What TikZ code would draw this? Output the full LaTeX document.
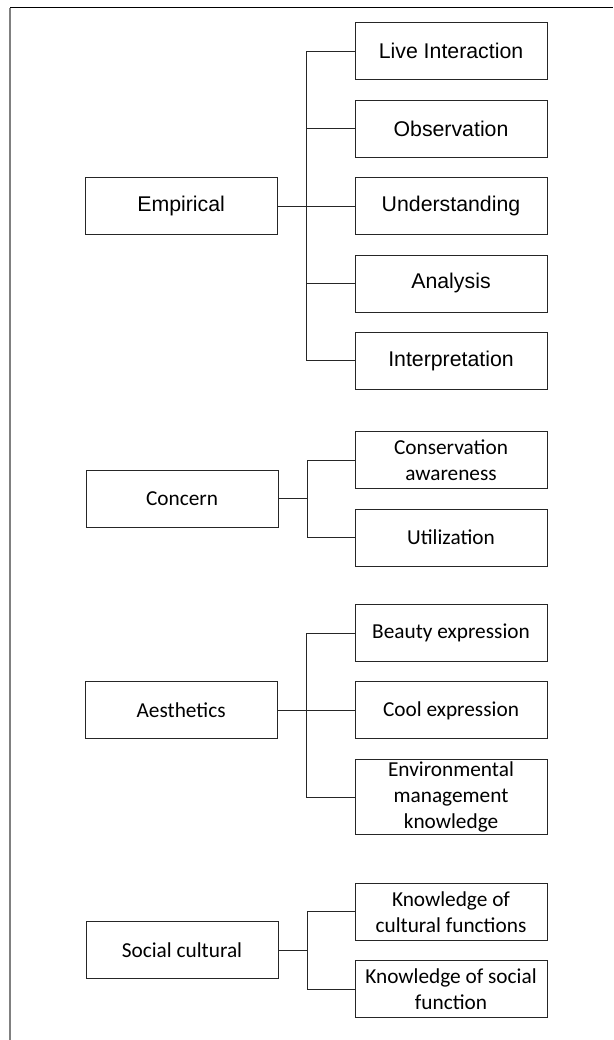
\documentclass[tikz,border=0pt]{standalone}
\usepackage{fontspec}
\setmainfont{Liberation Sans}
\newfontfamily\calibfont{Carlito}
\tikzset{>=latex}
\usetikzlibrary{positioning}

\begin{document}
\begin{tikzpicture}[node distance=19.5pt, auto,
    box/.style={rectangle, draw=black!85, line width=0.9pt, minimum width=192pt, minimum height=57pt,
      inner xsep=2pt, inner ysep=2.5pt, align=center, font=\fontsize{21.3}{26}\selectfont},
    cbox/.style={box, font=\calibfont\fontsize{21.3}{26}\selectfont},
    link/.style={draw=black!85, line width=0.9pt}]
      \useasboundingbox (0,0) rectangle (613pt,1040pt);
      % frame
      \draw[line width=1pt] (10pt,1032pt) -- (613pt,1032pt);
      \draw[gray, line width=1.6pt] (10pt,0) -- (10pt,1032pt);

      % Empirical
      \node[box] (live) at (451pt,988.7pt) {Live Interaction};
      \node[box, below=of live] (obs) {Observation};
      \node[box, below=of obs] (under) {Understanding};
      \node[box, below=of under] (anal) {Analysis};
      \node[box, below=of anal] (interp) {Interpretation};
      \node[box, left=77pt of under] (emp) {Empirical};
      \draw[link] (emp.east) -- ++(29pt,0) |- (live.west);
      \draw[link] (emp.east) -- ++(29pt,0) |- (obs.west);
      \draw[link] (emp.east) -- (under.west);
      \draw[link] (emp.east) -- ++(29pt,0) |- (anal.west);
      \draw[link] (emp.east) -- ++(29pt,0) |- (interp.west);

      % Concern
      \node[cbox] (cons) at (451pt,579.8pt) {Conservation\\awareness};
      \node[cbox, below=of cons] (util) {Utilization};
      \node[cbox] (concern) at (182pt,541.5pt) {Concern};
      \draw[link] (concern.east) -- ++(29pt,0) |- (cons.west);
      \draw[link] (concern.east) -- ++(29pt,0) |- (util.west);

      % Aesthetics
      \node[cbox] (beauty) at (451pt,407pt) {Beauty expression};
      \node[cbox, below=of beauty] (cool) {Cool expression};
      \node[cbox, below=of cool] (envir) {Environmental\\management\\knowledge};
      \node[cbox, left=77pt of cool] (aest) {Aesthetics};
      \draw[link] (aest.east) -- ++(29pt,0) |- (beauty.west);
      \draw[link] (aest.east) -- (cool.west);
      \draw[link] (aest.east) -- ++(29pt,0) |- (envir.west);

      % Social cultural
      \node[cbox] (cultf) at (451pt,128.3pt) {Knowledge of\\cultural functions};
      \node[cbox, below=of cultf] (socf) {Knowledge of social\\function};
      \node[cbox] (social) at (182pt,89.8pt) {Social cultural};
      \draw[link] (social.east) -- ++(29pt,0) |- (cultf.west);
      \draw[link] (social.east) -- ++(29pt,0) |- (socf.west);
    \end{tikzpicture}
\end{document}
